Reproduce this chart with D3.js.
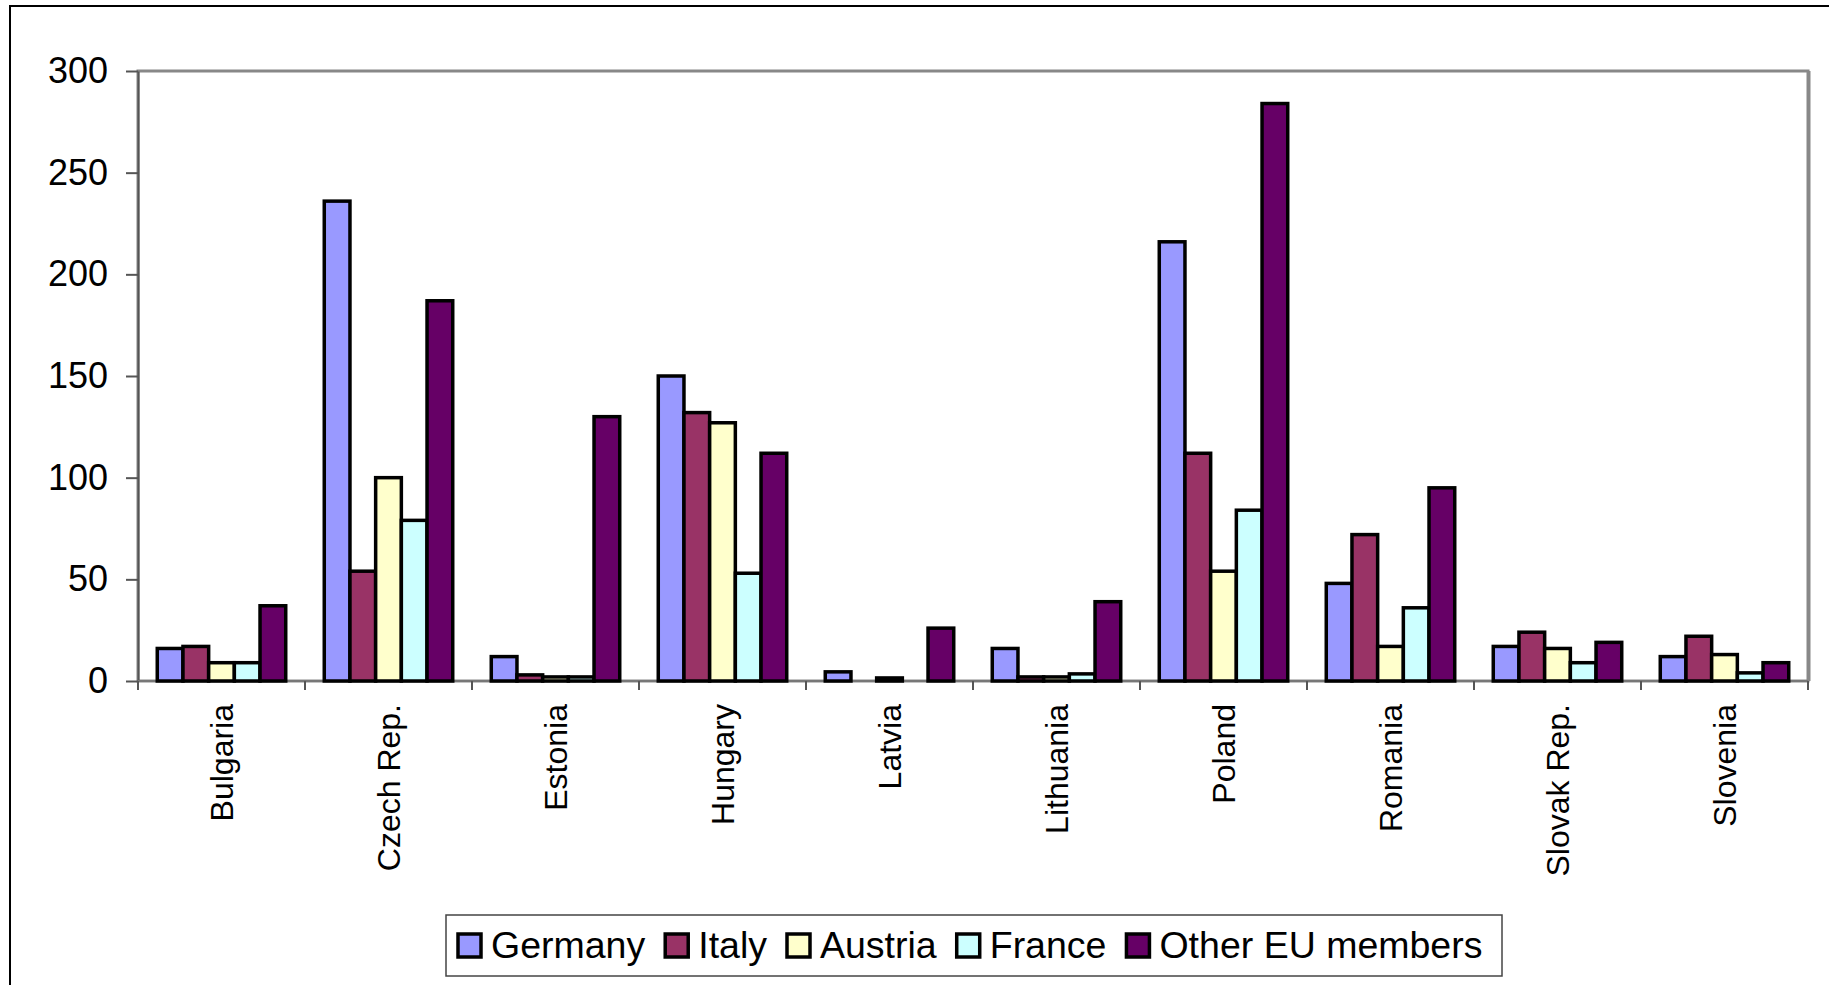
<!DOCTYPE html>
<html>
<head>
<meta charset="utf-8">
<script src="https://cdn.jsdelivr.net/npm/d3@7"></script>
<style>
  body { margin: 0; background: #fff; }
  svg { display: block; font-family: "Liberation Sans", Arial, sans-serif; }
</style>
</head>
<body>
<svg id="chart"></svg>
<script>
const countries = ['Bulgaria', 'Czech Rep.', 'Estonia', 'Hungary', 'Latvia',
  'Lithuania', 'Poland', 'Romania', 'Slovak Rep.', 'Slovenia'];
const seriesNames = ['Germany', 'Italy', 'Austria', 'France', 'Other EU members'];
const seriesColors = ['#9999ff', '#993366', '#ffffcc', '#ccffff', '#660066'];

const germany = [16, 236, 12, 150, 4.5, 16, 216, 48, 17, 12];
const italy   = [17, 54, 3, 132, 0, 2, 112, 72, 24, 22];
const austria = [9, 100, 2, 127, 1.5, 2, 54, 17, 16, 13];
const france  = [9, 79, 2, 53, 0, 3.5, 84, 36, 9, 4];
const otherEU = [37, 187, 130, 112, 26, 39, 284, 95, 19, 9];
const yTicks = [0, 50, 100, 150, 200, 250, 300];

const seriesValues = [germany, italy, austria, france, otherEU];

const W = 1829, H = 985;
const margin = { top: 71, right: 21, bottom: 304, left: 138 };
const width = W - margin.left - margin.right;
const height = H - margin.top - margin.bottom;

const svg = d3.select('#chart').attr('width', W).attr('height', H);

// outer chart border
svg.append('rect')
  .attr('x', 10).attr('y', 6)
  .attr('width', W).attr('height', H)
  .attr('fill', 'none').attr('stroke', '#000').attr('stroke-width', 2);

const g = svg.append('g').attr('transform', `translate(${margin.left},${margin.top})`);

const x = d3.scaleBand().domain(countries).range([0, width]).paddingInner(0).paddingOuter(0);
const xs = d3.scaleBand().domain(seriesNames).range([0, x.bandwidth()]).paddingInner(0).paddingOuter(0.75);
const y = d3.scaleLinear().domain([0, 300]).range([height, 0]);

// plot area frame
g.append('rect')
  .attr('x', 0).attr('y', 0).attr('width', width).attr('height', height)
  .attr('fill', 'none').attr('stroke', '#888').attr('stroke-width', 3);
g.append('line')
  .attr('x1', width + 1.5).attr('x2', width + 1.5).attr('y1', 0).attr('y2', height)
  .attr('stroke', '#888').attr('stroke-width', 2);

// y axis
g.append('g')
  .call(d3.axisLeft(y).tickValues(yTicks).tickSize(12).tickPadding(18).tickSizeOuter(0))
  .call(a => a.select('.domain').attr('stroke', '#555').attr('stroke-width', 2))
  .call(a => a.selectAll('.tick line').attr('stroke', '#555').attr('stroke-width', 2))
  .call(a => a.selectAll('.tick text').attr('font-size', 36).attr('fill', '#000')
    .attr('font-family', '"Liberation Sans", Arial, sans-serif'));

// x axis line and boundary ticks
g.append('line')
  .attr('x1', 0).attr('x2', width).attr('y1', height).attr('y2', height)
  .attr('stroke', '#777').attr('stroke-width', 2);
const bounds = countries.map(c => x(c)).concat([x(countries[countries.length - 1]) + x.bandwidth()]);
g.selectAll('.xtick').data(bounds).join('line')
  .attr('class', 'xtick')
  .attr('x1', d => d).attr('x2', d => d)
  .attr('y1', height).attr('y2', height + 9)
  .attr('stroke', '#555').attr('stroke-width', 2);

// bars
const groups = g.selectAll('.grp').data(countries).join('g')
  .attr('class', 'grp')
  .attr('transform', c => `translate(${x(c)},0)`);

groups.selectAll('rect')
  .data((c, ci) => seriesNames.map((s, si) => ({ s, si, v: seriesValues[si][ci] })))
  .join('rect')
  .filter(d => d.v > 0)
  .attr('x', d => xs(d.s))
  .attr('y', d => y(d.v))
  .attr('width', xs.bandwidth())
  .attr('height', d => height - y(d.v))
  .attr('fill', d => seriesColors[d.si])
  .attr('stroke', '#000')
  .attr('stroke-width', 3.5);

// category labels
g.selectAll('.clabel').data(countries).join('text')
  .attr('class', 'clabel')
  .attr('transform', c => `translate(${x(c) + x.bandwidth() / 2},${height + 23}) rotate(-90)`)
  .attr('text-anchor', 'end')
  .attr('dy', '0.35em')
  .attr('font-size', 32)
  .text(c => c);

// legend
const legend = svg.append('g');
legend.append('rect')
  .attr('x', 446).attr('y', 915).attr('width', 1056).attr('height', 61)
  .attr('fill', '#fff').attr('stroke', '#444').attr('stroke-width', 1.5);

let lx = 458;
seriesNames.forEach((s, i) => {
  legend.append('rect')
    .attr('x', lx).attr('y', 934).attr('width', 23).attr('height', 23)
    .attr('fill', seriesColors[i]).attr('stroke', '#000').attr('stroke-width', 3.5);
  const t = legend.append('text')
    .attr('x', lx + 33).attr('y', 958)
    .attr('font-size', 37.5)
    .text(s);
  lx += 33 + t.node().getComputedTextLength() + 20;
});
</script>
</body>
</html>
